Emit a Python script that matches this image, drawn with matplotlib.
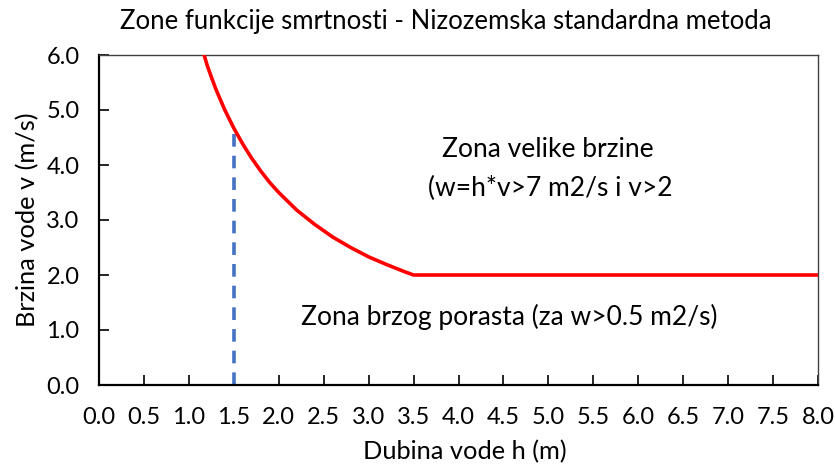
import matplotlib
matplotlib.use("Agg")
import matplotlib.pyplot as plt

plt.rcParams['font.family'] = ['Lato', 'DejaVu Sans']

# Red boundary curve
h_curve = [1.17, 1.2, 1.25, 1.3, 1.35, 1.4, 1.5, 1.6, 1.7, 1.8, 1.9, 2.0,
           2.2, 2.4, 2.6, 2.8, 3.0, 3.2, 3.4, 3.5, 8.0]
v_curve = [6.0, 5.83, 5.6, 5.38, 5.19, 5.0, 4.67, 4.38, 4.12, 3.89, 3.68, 3.5,
           3.18, 2.92, 2.69, 2.5, 2.33, 2.19, 2.06, 2.0, 2.0]

# Blue dashed marker line
h_dash = [1.5, 1.5]
v_dash = [0.0, 4.67]

x_ticks = [i * 0.5 for i in range(17)]
y_ticks = [0, 1, 2, 3, 4, 5, 6]

title = "Zone funkcije smrtnosti - Nizozemska standardna metoda"
xlabel = "Dubina vode h (m)"
ylabel = "Brzina vode v (m/s)"
zone1 = "Zona velike brzine"
zone1b = "(w=h*v>7 m2/s i v>2"
zone2 = "Zona brzog porasta (za w>0.5 m2/s)"

fig = plt.figure(figsize=(8.35, 4.66), dpi=100)
ax = fig.add_axes([99/835, 1-385/466, (818-99)/835, (385-55)/466])

ax.plot(h_curve, v_curve, color='#FF0000', lw=2.6, solid_joinstyle='round', zorder=3)
ax.plot(h_dash, v_dash, color='#4472C4', lw=2.6, ls=(0, (3.5, 2.5)), zorder=2)

ax.set_xlim(0, 8)
ax.set_ylim(0, 6)
ax.set_xticks(x_ticks)
ax.set_xticklabels([f"{t:.1f}" for t in x_ticks])
ax.set_yticks(y_ticks)
ax.set_yticklabels([f"{t:.1f}" for t in y_ticks])
ax.tick_params(direction='in', length=7, width=1.2, labelsize=17, colors='black')
ax.tick_params(axis='x', pad=16)
ax.tick_params(axis='y', pad=14)

for s in ['left', 'bottom']:
    ax.spines[s].set_linewidth(1.6)
    ax.spines[s].set_color('black')
for s in ['top', 'right']:
    ax.spines[s].set_linewidth(1.0)
    ax.spines[s].set_color('#404040')

ax.text(4.99, 4.29, zone1, ha='center', va='center', fontsize=19)
ax.text(5.02, 3.57, zone1b, ha='center', va='center', fontsize=19)
ax.text(4.57, 1.24, zone2, ha='center', va='center', fontsize=19)

fig.text(446/835, 1-22/466, title, ha='center', va='center', fontsize=18.5)
fig.text(465/835, 1-452/466, xlabel, ha='center', va='center', fontsize=18.3)
fig.text(28/835, 1-220/466, ylabel, ha='center', va='center', fontsize=18.3, rotation=90)

fig.savefig("out.png", dpi=100)
